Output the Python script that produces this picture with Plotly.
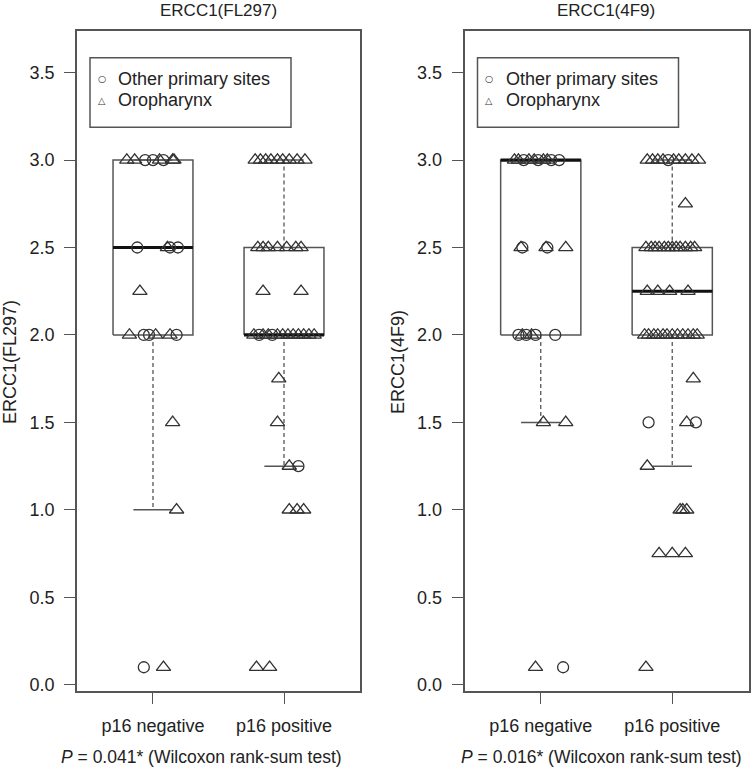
import plotly.graph_objects as go

W, H = 754, 769

categories = ["p16 negative", "p16 positive"]
y_ticks = [0.0, 0.5, 1.0, 1.5, 2.0, 2.5, 3.0, 3.5]
y_tick_labels = ["0.0", "0.5", "1.0", "1.5", "2.0", "2.5", "3.0", "3.5"]
site_names = ["Other primary sites", "Oropharynx"]  # O = circle, T = triangle

# ---------------- ERCC1(FL297) ----------------
fl297_neg_y = [3.0, 3.0, 3.0, 3.0, 3.0, 3.0, 3.0, 3.0,
               2.5, 2.5, 2.5, 2.5,
               2.25,
               2.0, 2.0, 2.0, 2.0, 2.0, 2.0,
               1.5, 1.0, 0.1, 0.1]
fl297_neg_dx = [-0.20, -0.14, -0.06, 0.00, 0.05, 0.08, 0.15, 0.16,
                -0.12, 0.11, 0.13, 0.19,
                -0.10,
                -0.18, -0.07, -0.03, 0.02, 0.13, 0.18,
                0.15, 0.18, -0.07, 0.08]
fl297_neg_site = ["T", "T", "O", "O", "T", "O", "T", "T",
                  "O", "T", "O", "O",
                  "T",
                  "T", "O", "O", "T", "T", "O",
                  "T", "T", "O", "T"]

fl297_pos_y = [3.0] * 9 + [2.5] * 7 + [2.25] * 2 + [2.0] * 13 + \
              [1.75, 1.5, 1.25, 1.25, 1.0, 1.0, 1.0, 0.1, 0.1]
fl297_pos_dx = [-0.22, -0.18, -0.14, -0.10, -0.05, -0.01, 0.04, 0.10, 0.16,
                -0.20, -0.16, -0.12, -0.05, 0.02, 0.09, 0.13,
                -0.16, 0.13,
                -0.23, -0.19, -0.16, -0.12, -0.09, -0.05, -0.01, 0.03, 0.07, 0.11, 0.15, 0.19, 0.23,
                -0.04, -0.05, 0.04, 0.11, 0.04, 0.10, 0.15, -0.21, -0.11]
fl297_pos_site = ["T"] * 9 + ["T"] * 7 + ["T"] * 2 + \
                 ["T", "O", "T", "T", "O", "T", "T", "T", "T", "T", "T", "T", "T"] + \
                 ["T", "T", "T", "O", "T", "T", "T", "T", "T"]

fl297_lower = [1.0, 1.25]
fl297_q1 = [2.0, 2.0]
fl297_median = [2.5, 2.0]
fl297_q3 = [3.0, 2.5]
fl297_upper = [3.0, 3.0]

# ---------------- ERCC1(4F9) ----------------
f4f9_neg_y = [3.0] * 10 + [2.5] * 5 + [2.0] * 6 + [1.5, 1.5, 0.1, 0.1]
f4f9_neg_dx = [-0.20, -0.17, -0.13, -0.09, -0.05, -0.02, 0.02, 0.05, 0.08, 0.14,
               -0.15, -0.14, 0.04, 0.05, 0.19,
               -0.17, -0.14, -0.11, -0.07, -0.04, 0.11,
               0.02, 0.19, -0.04, 0.17]
f4f9_neg_site = ["T", "T", "O", "T", "T", "O", "T", "T", "O", "O",
                 "T", "O", "T", "O", "T",
                 "O", "T", "O", "T", "O", "O",
                 "T", "T", "T", "O"]

f4f9_pos_y = [3.0] * 10 + [2.75] + [2.5] * 12 + [2.25] * 4 + [2.0] * 12 + \
             [1.75, 1.5, 1.5, 1.5, 1.25, 1.0, 1.0, 1.0, 0.75, 0.75, 0.75, 0.1]
f4f9_pos_dx = [-0.19, -0.15, -0.11, -0.07, -0.03, 0.01, 0.05, 0.10, 0.15, 0.20,
               0.10,
               -0.20, -0.16, -0.13, -0.10, -0.06, -0.03, 0.00, 0.03, 0.06, 0.10, 0.14, 0.17,
               -0.19, -0.11, -0.02, 0.12,
               -0.21, -0.18, -0.14, -0.11, -0.07, -0.04, 0.00, 0.04, 0.08, 0.12, 0.16, 0.19,
               0.16, -0.18, 0.11, 0.18, -0.19, 0.06, 0.08, 0.11, -0.10, 0.00, 0.10, -0.20]
f4f9_pos_site = ["T", "T", "T", "T", "O", "T", "T", "T", "T", "T",
                 "T",
                 "T", "T", "T", "T", "T", "T", "T", "T", "T", "T", "T", "T",
                 "T", "T", "T", "T",
                 "T", "T", "T", "T", "T", "T", "T", "T", "T", "T", "T", "T",
                 "T", "O", "T", "O", "T", "T", "T", "T", "T", "T", "T", "T"]

f4f9_lower = [1.5, 1.25]
f4f9_q1 = [2.0, 2.0]
f4f9_median = [3.0, 2.25]
f4f9_q3 = [3.0, 2.5]
f4f9_upper = [3.0, 3.0]

panel_titles = ["ERCC1(FL297)", "ERCC1(4F9)"]
p_texts = ["<i>P</i> = 0.041* (Wilcoxon rank-sum test)",
           "<i>P</i> = 0.016* (Wilcoxon rank-sum test)"]

# ---------------- styling ----------------
FONT = "Liberation Sans, Arial, sans-serif"
TXT = "#222222"
FRAME = "#555555"
PT = "#333333"
BOX_HALF = 0.305
STAPLE_HALF = 0.15

fig = go.Figure()


def add_box(xa, ya, lower, q1, med, q3, upper):
    for i in range(len(categories)):
        c = i + 1
        fig.add_trace(go.Scatter(
            x=[c - BOX_HALF, c + BOX_HALF, c + BOX_HALF, c - BOX_HALF, c - BOX_HALF],
            y=[q1[i], q1[i], q3[i], q3[i], q1[i]],
            mode="lines", line=dict(color=FRAME, width=1.5),
            xaxis=xa, yaxis=ya, showlegend=False, hoverinfo="skip"))
        fig.add_trace(go.Scatter(
            x=[c, c, None, c, c], y=[q3[i], upper[i], None, q1[i], lower[i]],
            mode="lines", line=dict(color=FRAME, width=1.3, dash="4px,3px"),
            xaxis=xa, yaxis=ya, showlegend=False, hoverinfo="skip"))
        fig.add_trace(go.Scatter(
            x=[c - STAPLE_HALF, c + STAPLE_HALF, None, c - STAPLE_HALF, c + STAPLE_HALF],
            y=[upper[i], upper[i], None, lower[i], lower[i]],
            mode="lines", line=dict(color=FRAME, width=1.5),
            xaxis=xa, yaxis=ya, showlegend=False, hoverinfo="skip"))
        fig.add_trace(go.Scatter(
            x=[c - BOX_HALF, c + BOX_HALF], y=[med[i], med[i]],
            mode="lines", line=dict(color="#111111", width=3.2),
            xaxis=xa, yaxis=ya, showlegend=False, hoverinfo="skip"))


def add_points(xa, ya, gi, ys, dxs, sites):
    for code, sym, size in (("O", "circle-open", 11), ("T", "triangle-up-open", 12.5)):
        xs = [gi + 1 + d for d, s in zip(dxs, sites) if s == code]
        yy = [y for y, s in zip(ys, sites) if s == code]
        if not xs:
            continue
        fig.add_trace(go.Scatter(
            x=xs, y=yy, mode="markers",
            marker=dict(symbol=sym, size=size, color=PT, line=dict(color=PT, width=1.3)),
            xaxis=xa, yaxis=ya, showlegend=False, hoverinfo="skip"))


add_box("x", "y", fl297_lower, fl297_q1, fl297_median, fl297_q3, fl297_upper)
add_box("x2", "y2", f4f9_lower, f4f9_q1, f4f9_median, f4f9_q3, f4f9_upper)
add_points("x", "y", 0, fl297_neg_y, fl297_neg_dx, fl297_neg_site)
add_points("x", "y", 1, fl297_pos_y, fl297_pos_dx, fl297_pos_site)
add_points("x2", "y2", 0, f4f9_neg_y, f4f9_neg_dx, f4f9_neg_site)
add_points("x2", "y2", 1, f4f9_pos_y, f4f9_pos_dx, f4f9_pos_site)


def px(v):
    return v / W


def py(v):
    return 1 - v / H


panel_left = [77, 464.5]
panel_right = [360, 748.5]
frame_top, frame_bottom = 31, 695

xaxis_common = dict(range=[0.42, 2.58], tickvals=[1, 2], ticktext=categories,
                    showgrid=False, zeroline=False, showline=True, mirror=True,
                    linecolor=FRAME, linewidth=1.5, ticks="outside", ticklen=11,
                    tickcolor=FRAME, tickwidth=1.3, ticklabelstandoff=6,
                    tickfont=dict(family=FONT, size=18, color=TXT), fixedrange=True)
yaxis_common = dict(range=[-0.038, 3.739], tickvals=y_ticks, ticktext=y_tick_labels,
                    showgrid=False, zeroline=False, showline=True, mirror=True,
                    linecolor=FRAME, linewidth=1.5, ticks="outside", ticklen=11,
                    tickcolor=FRAME, tickwidth=1.3, ticklabelstandoff=6,
                    tickfont=dict(family=FONT, size=18, color=TXT), fixedrange=True,
                    domain=[py(frame_bottom), py(frame_top)])

fig.update_layout(
    width=W, height=H, margin=dict(l=0, r=0, t=0, b=0),
    paper_bgcolor="white", plot_bgcolor="white", showlegend=False,
    xaxis=dict(xaxis_common, domain=[px(panel_left[0]), px(panel_right[0])], anchor="y"),
    yaxis=dict(yaxis_common, anchor="x"),
    xaxis2=dict(xaxis_common, domain=[px(panel_left[1]), px(panel_right[1])], anchor="y2"),
    yaxis2=dict(yaxis_common, anchor="x2"),
)

annotations = []
shapes = []
title_x = [218, 606]
ylab_x = [10, 398]
p_x = [201, 601]
for k in range(2):
    annotations.append(dict(text=panel_titles[k], x=px(title_x[k]), y=py(11), xref="paper", yref="paper",
                            showarrow=False, xanchor="center", yanchor="middle",
                            font=dict(family=FONT, size=17, color=TXT)))
    annotations.append(dict(text=panel_titles[k], x=px(ylab_x[k]), y=py(364), xref="paper", yref="paper",
                            showarrow=False, xanchor="center", yanchor="middle", textangle=-90,
                            font=dict(family=FONT, size=18, color=TXT)))
    annotations.append(dict(text=p_texts[k], x=px(p_x[k]), y=py(761), xref="paper", yref="paper",
                            showarrow=False, xanchor="center", yanchor="middle",
                            font=dict(family=FONT, size=17.5, color=TXT)))
    off = panel_left[k] - panel_left[0]
    shapes.append(dict(type="rect", xref="paper", yref="paper",
                       x0=px(90 + off), x1=px(291 + off), y0=py(128), y1=py(58),
                       line=dict(color=FRAME, width=1.5), fillcolor="white", layer="below"))
    for row, (glyph, name) in enumerate(zip(["○", "△"], site_names)):
        yy = 79 + row * 21.7
        annotations.append(dict(text=glyph, x=px(102 + off), y=py(yy), xref="paper", yref="paper",
                                showarrow=False, xanchor="center", yanchor="middle",
                                font=dict(family="DejaVu Sans", size=9.5, color=PT)))
        annotations.append(dict(text=name, x=px(116 + off), y=py(yy), xref="paper", yref="paper",
                                showarrow=False, xanchor="left", yanchor="middle",
                                font=dict(family=FONT, size=18, color=TXT)))

fig.update_layout(annotations=annotations, shapes=shapes)
fig.write_html("out.html", config={"displayModeBar": False},
               post_script="document.body.style.margin='0';")
